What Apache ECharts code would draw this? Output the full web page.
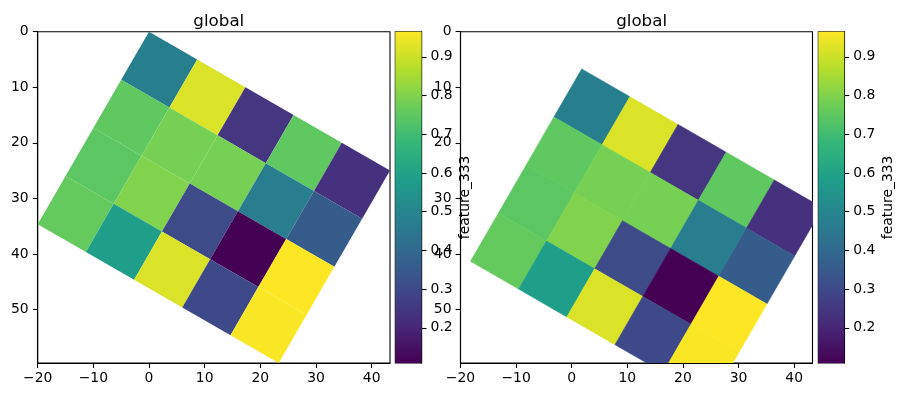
<!DOCTYPE html>
<html><head><meta charset="utf-8">
<script src="https://cdn.jsdelivr.net/npm/echarts@6/dist/echarts.min.js"></script>
<style>html,body{margin:0;padding:0;background:#fff}#chart{width:905px;height:397px}</style>
</head><body><div id="chart"></div>
<script>
// ---- data ----
const cellValues = [
  [0.480, 0.920, 0.245, 0.750, 0.230],
  [0.750, 0.785, 0.785, 0.470, 0.357],
  [0.745, 0.800, 0.306, 0.109, 0.965],
  [0.760, 0.585, 0.920, 0.300, 0.960]
];
const cellSize = 10;          // grid cell size in axis units
const rotationDeg = 30;       // grid rotation
const leftOrigin = [0, 0];    // top corner of the grid, left panel
const rightOrigin = [1.8, 6.7]; // top corner of the grid, right panel
const xTicks = [-20, -10, 0, 10, 20, 30, 40];
const yTicks = [0, 10, 20, 30, 40, 50];
const cbTicks = [0.2, 0.3, 0.4, 0.5, 0.6, 0.7, 0.8, 0.9];
const panelTitles = ['global', 'global'];
const cbLabel = 'feature_333';
const viridis = ['#440154','#482878','#3e4989','#31688e','#26828e','#1f9e89','#35b779','#6ece58','#b5de2b','#fde725'];

// ---- derived ----
const nRows = cellValues.length, nCols = cellValues[0].length;
const th = rotationDeg * Math.PI / 180;
const colVec = [cellSize * Math.cos(th), cellSize * Math.sin(th)];
const rowVec = [-cellSize * Math.sin(th), cellSize * Math.cos(th)];
function gridPoint(origin, c, r) {
  return [origin[0] + c * colVec[0] + r * rowVec[0], origin[1] + c * colVec[1] + r * rowVec[1]];
}
const round6 = v => Math.round(v * 1e6) / 1e6;
const corners = [gridPoint(leftOrigin,0,0), gridPoint(leftOrigin,nCols,0), gridPoint(leftOrigin,0,nRows), gridPoint(leftOrigin,nCols,nRows)];
const xMin = round6(Math.min(...corners.map(p => p[0]))), xMax = round6(Math.max(...corners.map(p => p[0])));
const yMin = round6(Math.min(...corners.map(p => p[1]))), yMax = round6(Math.max(...corners.map(p => p[1])));
const flat = [];
cellValues.forEach((row, r) => row.forEach((v, c) => flat.push([r, c, v])));
const vmin = Math.min(...flat.map(d => d[2])), vmax = Math.max(...flat.map(d => d[2]));

const FONT = 'DejaVu Sans';
const fmtMinus = v => String(v).replace('-', '\u2212');

function cellRenderer(origin, withStroke) {
  return function (params, api) {
    const r = api.value(0), c = api.value(1);
    const pts = [[c, r], [c + 1, r], [c + 1, r + 1], [c, r + 1]].map(q => api.coord(gridPoint(origin, q[0], q[1])));
    const col = api.visual('color');
    return { type: 'polygon', shape: { points: pts },
      style: withStroke ? { fill: col, stroke: col, lineWidth: 0.6 } : { fill: col } };
  };
}
function colorbarRenderer(params, api) {
  const p0 = api.coord([0, vmax]), p1 = api.coord([1, vmin]);
  return { type: 'rect', shape: { x: p0[0], y: p0[1], width: p1[0] - p0[0], height: p1[1] - p0[1] },
    style: { fill: { type: 'linear', x: 0, y: 1, x2: 0, y2: 0,
      colorStops: viridis.map((c, i) => ({ offset: i / (viridis.length - 1), color: c })) } } };
}

const axisCommon = {
  axisLine: { show: true, onZero: false, lineStyle: { color: '#000', width: 1.1 } },
  axisTick: { show: true, length: 4.9, lineStyle: { color: '#000', width: 1.1 } },
  splitLine: { show: false },
  axisLabel: { color: '#000', fontFamily: FONT, fontSize: 13.9, margin: 8, showMinLabel: true, showMaxLabel: true }
};
function mainX(gi) {
  return Object.assign({}, axisCommon, { type: 'value', gridIndex: gi, min: xMin, max: xMax, position: 'bottom',
    axisTick: Object.assign({}, axisCommon.axisTick, { customValues: xTicks }),
    axisLabel: Object.assign({}, axisCommon.axisLabel, { customValues: xTicks, formatter: fmtMinus }) });
}
function mainY(gi) {
  return Object.assign({}, axisCommon, { type: 'value', gridIndex: gi, min: yMin, max: yMax, inverse: true, position: 'left',
    axisTick: Object.assign({}, axisCommon.axisTick, { customValues: yTicks }),
    axisLabel: Object.assign({}, axisCommon.axisLabel, { customValues: yTicks, margin: 9, formatter: fmtMinus }) });
}
function cbX(gi) {
  return { type: 'value', gridIndex: gi, min: 0, max: 1, show: false };
}
function cbY(gi) {
  return Object.assign({}, axisCommon, { type: 'value', gridIndex: gi, min: vmin, max: vmax, position: 'right',
    axisTick: Object.assign({}, axisCommon.axisTick, { customValues: cbTicks }),
    axisLabel: Object.assign({}, axisCommon.axisLabel, { customValues: cbTicks, margin: 9, formatter: v => v.toFixed(1) }),
    name: cbLabel, nameLocation: 'middle', nameRotate: 90, nameGap: 37,
    nameTextStyle: { color: '#000', fontFamily: FONT, fontSize: 13.9 } });
}
const gridStyle = { show: true, borderColor: '#000', borderWidth: 1.1, backgroundColor: 'transparent', containLabel: false };

const option = {
  animation: false,
  backgroundColor: '#fff',
  title: [
    { text: panelTitles[0], left: 213.8, top: 8, textAlign: 'center', textStyle: { fontFamily: FONT, fontSize: 16.7, fontWeight: 'normal', color: '#000' } },
    { text: panelTitles[1], left: 636.6, top: 8, textAlign: 'center', textStyle: { fontFamily: FONT, fontSize: 16.7, fontWeight: 'normal', color: '#000' } }
  ],
  grid: [
    Object.assign({ left: 37.7, top: 31.7, width: 352.3, height: 331.3 }, gridStyle),
    Object.assign({ left: 395.3, top: 31.7, width: 26.3, height: 331.3 }, gridStyle),
    Object.assign({ left: 460.5, top: 31.7, width: 352.0, height: 331.3 }, gridStyle),
    Object.assign({ left: 818.3, top: 31.7, width: 26.0, height: 331.3 }, gridStyle)
  ],
  xAxis: [mainX(0), cbX(1), mainX(2), cbX(3)],
  yAxis: [mainY(0), cbY(1), mainY(2), cbY(3)],
  visualMap: [{ type: 'continuous', show: false, min: vmin, max: vmax, dimension: 2, seriesIndex: [0, 1], inRange: { color: viridis } }],
  series: [
    { type: 'custom', xAxisIndex: 0, yAxisIndex: 0, clip: true, renderItem: cellRenderer(leftOrigin, false), data: flat, silent: true },
    { type: 'custom', xAxisIndex: 2, yAxisIndex: 2, clip: true, renderItem: cellRenderer(rightOrigin, true), data: flat, silent: true },
    { type: 'custom', xAxisIndex: 1, yAxisIndex: 1, renderItem: colorbarRenderer, data: [[0]], silent: true },
    { type: 'custom', xAxisIndex: 3, yAxisIndex: 3, renderItem: colorbarRenderer, data: [[0]], silent: true }
  ]
};
const chart = echarts.init(document.getElementById('chart'), null, { renderer: 'canvas' });
chart.setOption(option);
</script></body></html>
